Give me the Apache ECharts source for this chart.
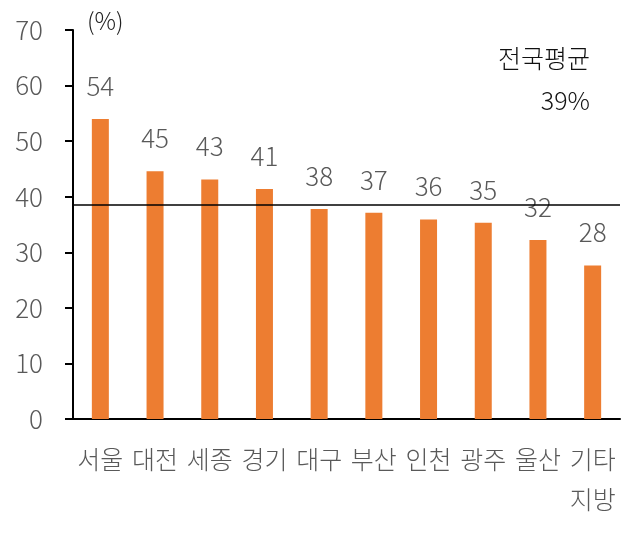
<!DOCTYPE html>
<html>
<head>
<meta charset="utf-8">
<script src="https://cdn.jsdelivr.net/npm/echarts@6/dist/echarts.min.js"></script>
<style>
html,body{margin:0;padding:0;background:#fff;}
#c{width:641px;height:535px;}
</style>
</head>
<body>
<div id="c"></div>
<script>
const categories = ['서울','대전','세종','경기','대구','부산','인천','광주','울산','기타\n지방'];
const values = [54.0, 44.6, 43.1, 41.4, 37.8, 37.1, 35.9, 35.3, 32.2, 27.6];
const valueLabels = ['54','45','43','41','38','37','36','35','32','28'];
const nationalAverage = 38.6;
const avgLabel = ['전국평균', '39%'];
const yTicks = [0, 10, 20, 30, 40, 50, 60, 70];

const FONT = '"Noto Sans CJK KR", "Noto Sans", sans-serif';
const chart = echarts.init(document.getElementById('c'), null, {renderer: 'canvas'});
chart.setOption({
  animation: false,
  backgroundColor: '#ffffff',
  grid: {left: 73, right: 21, top: 30, bottom: 116, containLabel: false},
  xAxis: {
    type: 'category',
    data: categories,
    axisLine: {lineStyle: {color: '#000', width: 2}},
    axisTick: {show: false},
    axisLabel: {interval: 0, color: '#595959', fontSize: 25, fontFamily: FONT, fontWeight: 300, margin: 20, lineHeight: 40}
  },
  yAxis: {
    type: 'value',
    min: yTicks[0],
    max: yTicks[yTicks.length - 1],
    interval: 10,
    splitLine: {show: false},
    axisLine: {show: true, lineStyle: {color: '#000', width: 2}},
    axisTick: {show: true, length: 8, lineStyle: {color: '#000', width: 2}},
    axisLabel: {color: '#595959', fontSize: 26, fontFamily: FONT, fontWeight: 300, margin: 30}
  },
  series: [{
    type: 'bar',
    data: values,
    barWidth: 17,
    itemStyle: {color: '#ED7D31'},
    label: {
      show: true,
      position: 'top',
      distance: 20,
      color: '#595959',
      fontSize: 26,
      fontFamily: FONT,
      fontWeight: 300,
      formatter: p => valueLabels[p.dataIndex]
    },
    markLine: {
      silent: true,
      symbol: 'none',
      label: {show: false},
      lineStyle: {color: '#000', width: 1.5, type: 'solid'},
      data: [{yAxis: nationalAverage}]
    },
    z: 2
  }],
  graphic: [
    {type: 'text', left: 87, top: 9, style: {text: '(%)', fill: '#222', font: '300 24px ' + FONT}},
    {type: 'text', right: 51, top: 46, style: {text: avgLabel[0], fill: '#111', font: '300 25px ' + FONT, textAlign: 'right'}},
    {type: 'text', right: 51, top: 88, style: {text: avgLabel[1], fill: '#111', font: '300 25px ' + FONT, textAlign: 'right'}}
  ]
});
</script>
</body>
</html>
